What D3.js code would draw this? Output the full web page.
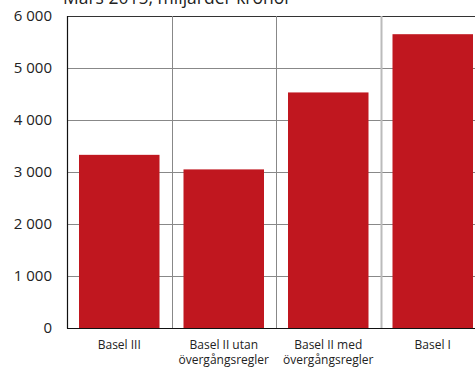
<!DOCTYPE html>
<html lang="sv">
<head>
<meta charset="utf-8">
<title>Kapitalkrav</title>
<script src="https://d3js.org/d3.v7.min.js"></script>
<style>
  body { margin: 0; background: #fff; }
  svg { display: block; font-family: "Open Sans", "Noto Sans", sans-serif; }
</style>
</head>
<body>
<svg id="chart" width="475" height="367"></svg>
<script>
// data (miljarder kronor, mars 2015)
var categories = [["Basel III"], ["Basel II utan", "övergångsregler"], ["Basel II med", "övergångsregler"], ["Basel I"]];
var values = [3330, 3050, 4530, 5650];
var yTicks = [0, 1000, 2000, 3000, 4000, 5000, 6000];
var title = "Mars 2015, miljarder kronor";

var svg = d3.select("#chart");
var mLeft = 67, mRight = 485, mTop = 16, mBottom = 328;

var x = d3.scaleBand().domain(d3.range(categories.length)).range([mLeft, mRight]).paddingInner(0).paddingOuter(0);
var y = d3.scaleLinear().domain([0, 6000]).range([mBottom, mTop]);
var fmt = function(d) { return d3.format(",")(d).replace(/,/g, " "); };

// horizontal grid
svg.append("g").selectAll("line").data(yTicks.slice(1)).enter().append("line")
    .attr("x1", mLeft).attr("x2", 475)
    .attr("y1", function(d) { return Math.round(y(d)) + 0.5; }).attr("y2", function(d) { return Math.round(y(d)) + 0.5; })
    .attr("stroke", function(d) { return d === 6000 ? "#333" : "#888"; })
    .attr("stroke-width", 1);

// vertical separators
svg.append("g").selectAll("line").data(d3.range(1, categories.length)).enter().append("line")
    .attr("x1", function(d) { return Math.round(x(d)) + 0.5; }).attr("x2", function(d) { return Math.round(x(d)) + 0.5; })
    .attr("y1", mTop).attr("y2", mBottom)
    .attr("stroke", function(d) { return d === 3 ? "#bbb" : "#888"; })
    .attr("stroke-width", function(d) { return d === 3 ? 2 : 1; });

// bars
var pad = 12;
svg.append("g").selectAll("rect").data(values).enter().append("rect")
    .attr("x", function(d, i) { return x(i) + pad; })
    .attr("width", x.bandwidth() - 2 * pad)
    .attr("y", function(d) { return y(d); })
    .attr("height", function(d) { return y(0) - y(d); })
    .attr("fill", "#c0171f");

// axes lines
svg.append("line").attr("x1", mLeft + 0.5).attr("x2", mLeft + 0.5).attr("y1", mTop).attr("y2", mBottom + 0.5)
    .attr("stroke", "#111").attr("stroke-width", 1.2);
svg.append("line").attr("x1", mLeft).attr("x2", 475).attr("y1", mBottom + 0.5).attr("y2", mBottom + 0.5)
    .attr("stroke", "#111").attr("stroke-width", 1.2);

// y tick labels
svg.append("g").selectAll("text").data(yTicks).enter().append("text")
    .attr("x", 52).attr("y", function(d) { return y(d) + 5; })
    .attr("text-anchor", "end").attr("font-size", 15).attr("fill", "#222")
    .text(fmt);

// x labels
var xl = svg.append("g").selectAll("text").data(categories).enter().append("text")
    .attr("text-anchor", "middle").attr("font-size", 12).attr("fill", "#222")
    .attr("transform", function(d, i) { return "translate(" + (x(i) + x.bandwidth() / 2) + ",349)"; });
xl.selectAll("tspan").data(function(d) { return d; }).enter().append("tspan")
    .attr("x", 0).attr("dy", function(d, i) { return i ? 15 : 0; })
    .text(function(d) { return d; });

// title (cut off at top)
svg.append("text").attr("x", 63).attr("y", 4).attr("font-size", 17.5).attr("fill", "#222").text(title);
</script>
</body>
</html>
